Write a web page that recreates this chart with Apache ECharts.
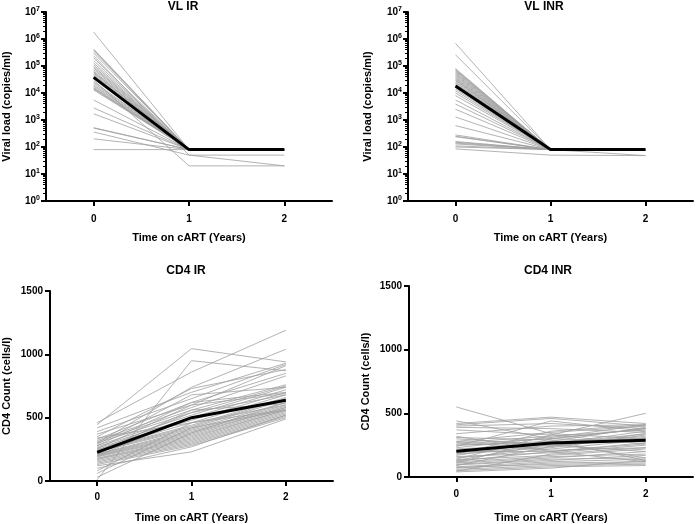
<!DOCTYPE html>
<html><head><meta charset="utf-8">
<script src="https://cdn.jsdelivr.net/npm/echarts@6/dist/echarts.min.js"></script>
<style>html,body{margin:0;padding:0;background:#fff}#c{width:700px;height:524px}</style>
</head><body><div id="c"></div>
<script>
// ---------- data ----------
const years = ['0', '1', '2'];
const xName = 'Time on cART (Years)';
const vlName = 'Viral load (copies/ml)';
const cd4Name = 'CD4 Count (cells/l)';
const panelTitles = ['VL IR', 'VL INR', 'CD4 IR', 'CD4 INR'];
const cd4Ticks = [0, 500, 1000, 1500];
const vlDecades = [0, 1, 2, 3, 4, 5, 6, 7];

// VL IR (copies/ml), one entry per subject
const vlIR_y0 = [1800000, 420000, 400000, 360000, 300000, 240000, 200000, 160000, 130000, 110000, 95000, 85000, 75000, 65000, 60000, 55000, 50000, 45000, 40000, 35000, 30000, 26000, 23000, 20000, 18000, 16000, 15000, 14000, 13000, 5500, 2800, 1700, 520, 500, 360, 200, 80];
const vlIR_y1 = [80, 80, 80, 80, 80, 50, 80, 80, 80, 80, 80, 80, 80, 80, 80, 80, 80, 80, 80, 80, 20, 80, 80, 80, 80, 80, 80, 80, 80, 80, 80, 80, 80, 80, 50, 80, 80];
const vlIR_y2 = [80, 80, 80, 80, 80, 50, 80, 80, 80, 80, 80, 80, 80, 80, 80, 80, 80, 80, 80, 80, 20, 80, 80, 80, 80, 80, 80, 80, 80, 80, 80, 80, 80, 80, 20, 80, 80];
const vlIR_mean = [38000, 80, 80];

// VL INR
const vlINR_y0 = [690000, 260000, 80000, 75000, 70000, 65000, 60000, 55000, 50000, 46000, 42000, 38000, 35000, 32000, 30000, 28000, 25000, 23000, 21000, 19000, 16000, 14000, 12000, 10000, 8000, 5500, 3900, 2500, 1300, 620, 280, 250, 240, 160, 150, 140, 130, 110, 100, 85];
const vlINR_y1 = [80, 80, 80, 80, 80, 80, 80, 80, 80, 80, 80, 80, 80, 80, 80, 80, 80, 80, 80, 80, 80, 80, 80, 80, 80, 80, 80, 80, 80, 80, 80, 80, 80, 80, 80, 80, 80, 80, 80, 50];
const vlINR_y2 = [80, 80, 80, 80, 80, 80, 80, 80, 80, 80, 48, 80, 80, 80, 80, 80, 80, 80, 80, 80, 80, 80, 80, 80, 80, 80, 80, 80, 80, 80, 80, 80, 80, 80, 80, 80, 80, 80, 80, 48];
const vlINR_mean = [18000, 80, 80];

// CD4 IR (cells/l)
const cd4IR_y0 = [460, 445, 10, 300, 420, 390, 370, 350, 330, 320, 310, 300, 290, 280, 270, 260, 255, 250, 245, 240, 235, 230, 220, 215, 210, 205, 200, 195, 190, 180, 175, 170, 160, 150, 140, 130, 120, 100, 80, 60, 30, 280, 240, 200, 340];
const cd4IR_y1 = [860, 1045, 950, 740, 700, 650, 600, 730, 620, 580, 560, 540, 680, 520, 500, 480, 600, 460, 440, 430, 420, 410, 560, 400, 390, 380, 370, 360, 350, 340, 330, 320, 310, 300, 290, 280, 230, 270, 460, 420, 380, 620, 540, 500, 460];
const cd4IR_y2 = [1190, 940, 870, 1040, 930, 920, 910, 880, 850, 830, 760, 750, 740, 740, 720, 700, 690, 680, 660, 650, 640, 620, 610, 600, 590, 580, 580, 570, 560, 560, 550, 540, 530, 520, 510, 500, 490, 520, 600, 560, 620, 700, 680, 640, 560];
const cd4IR_mean = [226, 500, 637];

// CD4 INR
const cd4INR_y0 = [550, 440, 420, 410, 400, 390, 370, 340, 310, 300, 280, 270, 260, 250, 240, 230, 220, 210, 200, 190, 180, 170, 160, 150, 140, 135, 130, 125, 120, 110, 100, 95, 90, 80, 75, 70, 60, 50, 40, 45, 180, 250, 320, 110, 280];
const cd4INR_y1 = [340, 300, 470, 460, 420, 380, 330, 400, 290, 250, 350, 320, 300, 280, 440, 310, 260, 250, 200, 240, 230, 280, 190, 220, 330, 170, 260, 200, 160, 150, 140, 130, 240, 120, 100, 110, 90, 80, 70, 180, 360, 270, 200, 300, 210];
const cd4INR_y2 = [300, 280, 420, 400, 380, 350, 260, 410, 130, 200, 400, 370, 380, 300, 360, 410, 340, 320, 260, 310, 330, 390, 250, 290, 500, 220, 360, 270, 180, 200, 150, 170, 340, 140, 110, 120, 100, 90, 130, 230, 410, 150, 120, 380, 230];
const cd4INR_mean = [202, 267, 288];

// ---------- layout / style ----------
const FONT = 'Liberation Sans, Arial, sans-serif';
const grids = [
  {left: 46, top: 12, width: 286, height: 189},
  {left: 408, top: 12, width: 285, height: 189},
  {left: 50, top: 291, width: 283, height: 190},
  {left: 409, top: 286, width: 284, height: 191}
];
const titlePos = [[183, 7], [544, 7], [186, 271], [548, 271]];
const xNameGap = [31, 31, 31, 35];
const xLabelMargin = [13, 13, 11, 12];
const yNameGap = [34, 35, 38, 38];

const boldText = {color: '#000', fontFamily: FONT, fontWeight: 'bold'};

// major (decade) and minor (2..9 x 10^d) tick values on the log axes
const vlMajor = vlDecades.map(function (d) { return Math.pow(10, d); });
const vlMinor = [];
vlDecades.slice(0, -1).forEach(function (d) {
  for (let m = 2; m <= 9; m++) vlMinor.push(m * Math.pow(10, d));
});

function xAxis(i) {
  return {
    type: 'category', gridIndex: i, data: years, boundaryGap: true,
    axisLine: {show: true, onZero: false, lineStyle: {color: '#000', width: 2}},
    axisTick: {show: true, alignWithLabel: true, length: 5, lineStyle: {color: '#000', width: 2}},
    axisLabel: Object.assign({fontSize: 10, margin: xLabelMargin[i]}, boldText),
    splitLine: {show: false},
    name: xName, nameLocation: 'middle', nameGap: xNameGap[i],
    nameTextStyle: Object.assign({fontSize: 11}, boldText)
  };
}
function vlAxis(i) {
  return {
    type: 'log', gridIndex: i, logBase: 10,
    min: vlMajor[0], max: vlMajor[vlMajor.length - 1], splitNumber: 7,
    axisLine: {show: true, lineStyle: {color: '#000', width: 2}},
    axisTick: {show: true, length: 5, customValues: vlMajor, lineStyle: {color: '#000', width: 2}},
    splitLine: {show: false},
    axisLabel: {
      margin: 6,
      customValues: vlMajor,
      formatter: function (v) { return '{b|10}{s|' + Math.round(Math.log10(v)) + '}'; },
      rich: {
        b: Object.assign({fontSize: 10, lineHeight: 12}, boldText),
        s: Object.assign({fontSize: 7, lineHeight: 7, verticalAlign: 'top'}, boldText)
      }
    },
    name: vlName, nameLocation: 'middle', nameGap: yNameGap[i], nameRotate: 90,
    nameTextStyle: Object.assign({fontSize: 11}, boldText)
  };
}
// helper axis that only draws the short minor ticks at the left edge
function vlMinorAxis(i) {
  return {
    type: 'log', gridIndex: i, logBase: 10,
    min: vlMajor[0], max: vlMajor[vlMajor.length - 1],
    position: 'right', offset: -grids[i].width,
    axisLine: {show: false},
    axisTick: {show: true, inside: true, length: 3, customValues: vlMinor, lineStyle: {color: '#000', width: 1}},
    axisLabel: {show: false},
    splitLine: {show: false}
  };
}
function cd4Axis(i) {
  return {
    type: 'value', gridIndex: i, min: cd4Ticks[0], max: cd4Ticks[cd4Ticks.length - 1], interval: 500,
    axisLine: {show: true, lineStyle: {color: '#000', width: 2}},
    axisTick: {show: true, length: 5, lineStyle: {color: '#000', width: 2}},
    splitLine: {show: false},
    axisLabel: Object.assign({fontSize: 10, margin: 7, formatter: function (v) { return String(v); }}, boldText),
    name: cd4Name, nameLocation: 'middle', nameGap: yNameGap[i], nameRotate: 90,
    nameTextStyle: Object.assign({fontSize: 11}, boldText)
  };
}

const series = [];
function addPanel(i, y0, y1, y2, mean) {
  for (let k = 0; k < y0.length; k++) {
    series.push({
      type: 'line', xAxisIndex: i, yAxisIndex: i, data: [y0[k], y1[k], y2[k]],
      symbol: 'none', silent: true, z: 2,
      lineStyle: {color: '#a0a0a0', width: 0.8}
    });
  }
  series.push({
    type: 'line', xAxisIndex: i, yAxisIndex: i, data: mean,
    symbol: 'none', silent: true, z: 3,
    lineStyle: {color: '#000', width: 3}
  });
}
addPanel(0, vlIR_y0, vlIR_y1, vlIR_y2, vlIR_mean);
addPanel(1, vlINR_y0, vlINR_y1, vlINR_y2, vlINR_mean);
addPanel(2, cd4IR_y0, cd4IR_y1, cd4IR_y2, cd4IR_mean);
addPanel(3, cd4INR_y0, cd4INR_y1, cd4INR_y2, cd4INR_mean);

const chart = echarts.init(document.getElementById('c'), null, {renderer: 'canvas'});
chart.setOption({
  animation: false,
  backgroundColor: '#fff',
  grid: grids,
  xAxis: [0, 1, 2, 3].map(xAxis),
  yAxis: [vlAxis(0), vlAxis(1), cd4Axis(2), cd4Axis(3), vlMinorAxis(0), vlMinorAxis(1)],
  graphic: panelTitles.map(function (t, i) {
    return {
      type: 'text', x: titlePos[i][0], y: titlePos[i][1],
      style: {text: t, fill: '#000', fontFamily: FONT, fontWeight: 'bold', fontSize: 12, align: 'center', verticalAlign: 'middle'}
    };
  }),
  series: series
});
</script>
</body></html>
